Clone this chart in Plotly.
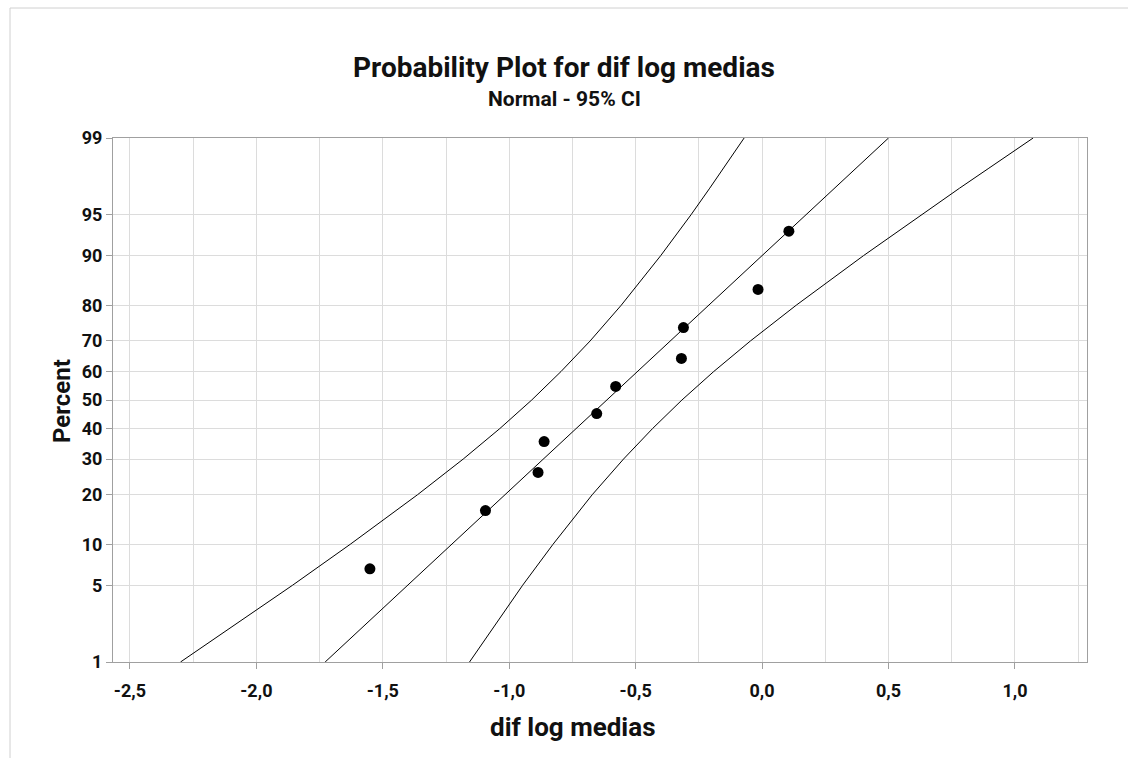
import plotly.graph_objects as go
from statistics import NormalDist

# ---- data ----
dif_values = [-1.551, -1.094, -0.886, -0.862, -0.654, -0.579, -0.319, -0.311, -0.016, 0.106]
pct_points = [6.7, 16.3, 26.0, 35.6, 45.2, 54.8, 64.4, 74.0, 83.7, 93.3]

fit_pct = [1, 99]
fit_x = [-1.728, 0.500]

ci_pct = [1, 2, 3, 5, 10, 20, 30, 40, 50, 60, 70, 80, 90, 95, 97, 98, 99]
ci_lower_x = [-2.300, -2.122, -2.009, -1.857, -1.629, -1.363, -1.182, -1.037, -0.911,
              -0.795, -0.680, -0.557, -0.401, -0.281, -0.207, -0.154, -0.071]
ci_upper_x = [-1.157, -1.074, -1.021, -0.947, -0.827, -0.672, -0.548, -0.433, -0.317,
              -0.191, -0.046, 0.135, 0.401, 0.629, 0.781, 0.894, 1.072]

y_tick_pct = [1, 5, 10, 20, 30, 40, 50, 60, 70, 80, 90, 95, 99]
y_tick_text = ["1", "5", "10", "20", "30", "40", "50", "60", "70", "80", "90", "95", "99"]
x_tick_vals = [-2.5, -2.0, -1.5, -1.0, -0.5, 0.0, 0.5, 1.0]
x_tick_text = ["-2,5", "-2,0", "-1,5", "-1,0", "-0,5", "0,0", "0,5", "1,0"]

nd = NormalDist()
def pz(p):
    return nd.inv_cdf(p / 100.0)

FONT = "Roboto"
GRID = "#dcdcdc"
AXIS = "#a0a0a0"
TXT = "#111111"

fig = go.Figure()
fig.add_trace(go.Scatter(x=ci_lower_x, y=[pz(p) for p in ci_pct], mode="lines",
                         line=dict(color="black", width=1), hoverinfo="skip"))
fig.add_trace(go.Scatter(x=ci_upper_x, y=[pz(p) for p in ci_pct], mode="lines",
                         line=dict(color="black", width=1), hoverinfo="skip"))
fig.add_trace(go.Scatter(x=fit_x, y=[pz(p) for p in fit_pct], mode="lines",
                         line=dict(color="black", width=1), hoverinfo="skip"))
fig.add_trace(go.Scatter(x=dif_values, y=[pz(p) for p in pct_points], mode="markers",
                         marker=dict(color="black", size=11)))

fig.update_layout(
    width=1128, height=758,
    margin=dict(l=113, r=41, t=138, b=96),
    paper_bgcolor="white", plot_bgcolor="white",
    showlegend=False,
    font=dict(family=FONT, color=TXT),
)

fig.update_xaxes(
    range=[-2.567, 1.285],
    tickmode="array", tickvals=x_tick_vals, ticktext=x_tick_text,
    ticks="outside", ticklen=6, tickcolor=AXIS, tickwidth=1,
    ticklabelstandoff=6,
    tickfont=dict(family=FONT, size=18, color=TXT, weight="bold"),
    showgrid=True, gridcolor=GRID, gridwidth=1,
    minor=dict(tickmode="linear", tick0=-2.5, dtick=0.25, showgrid=True,
               gridcolor=GRID, gridwidth=1, ticks=""),
    showline=True, linecolor=AXIS, linewidth=1, mirror=True,
    zeroline=False,
)

fig.update_yaxes(
    range=[pz(1), pz(99)],
    tickmode="array", tickvals=[pz(p) for p in y_tick_pct], ticktext=y_tick_text,
    ticks="outside", ticklen=6, tickcolor=AXIS, tickwidth=1,
    tickfont=dict(family=FONT, size=18, color=TXT, weight="bold"),
    showgrid=True, gridcolor=GRID, gridwidth=1,
    showline=True, linecolor=AXIS, linewidth=1, mirror=True,
    zeroline=False,
)

def px_x(p):
    return (p - 113) / 974

def px_y(p):
    return 1 - (p - 138) / 524

# Titles
fig.add_annotation(text="<b>Probability Plot for dif log medias</b>", xref="paper", yref="paper",
                   x=px_x(564), y=px_y(68), showarrow=False,
                   font=dict(family=FONT, size=28, color=TXT),
                   xanchor="center", yanchor="middle")
fig.add_annotation(text="<b>Normal - 95% CI</b>", xref="paper", yref="paper",
                   x=px_x(564), y=px_y(99), showarrow=False,
                   font=dict(family=FONT, size=21, color=TXT),
                   xanchor="center", yanchor="middle")
# Axis titles
fig.add_annotation(text="<b>dif log medias</b>", xref="paper", yref="paper",
                   x=px_x(573), y=px_y(727), showarrow=False,
                   font=dict(family=FONT, size=26, color=TXT),
                   xanchor="center", yanchor="middle")
fig.add_annotation(text="<b>Percent</b>", xref="paper", yref="paper",
                   x=px_x(62), y=px_y(401), showarrow=False, textangle=-90,
                   font=dict(family=FONT, size=24, color=TXT),
                   xanchor="center", yanchor="middle")

# Outer frame lines (graph border)
x0 = px_x(10)
y_top = px_y(8)
fig.add_shape(type="line", xref="paper", yref="paper", x0=x0, x1=1.1, y0=y_top, y1=y_top,
              line=dict(color="#d0d0d0", width=1))
fig.add_shape(type="line", xref="paper", yref="paper", x0=x0, x1=x0, y0=y_top, y1=-0.3,
              line=dict(color="#d0d0d0", width=1))

fig.write_html("out.html")
